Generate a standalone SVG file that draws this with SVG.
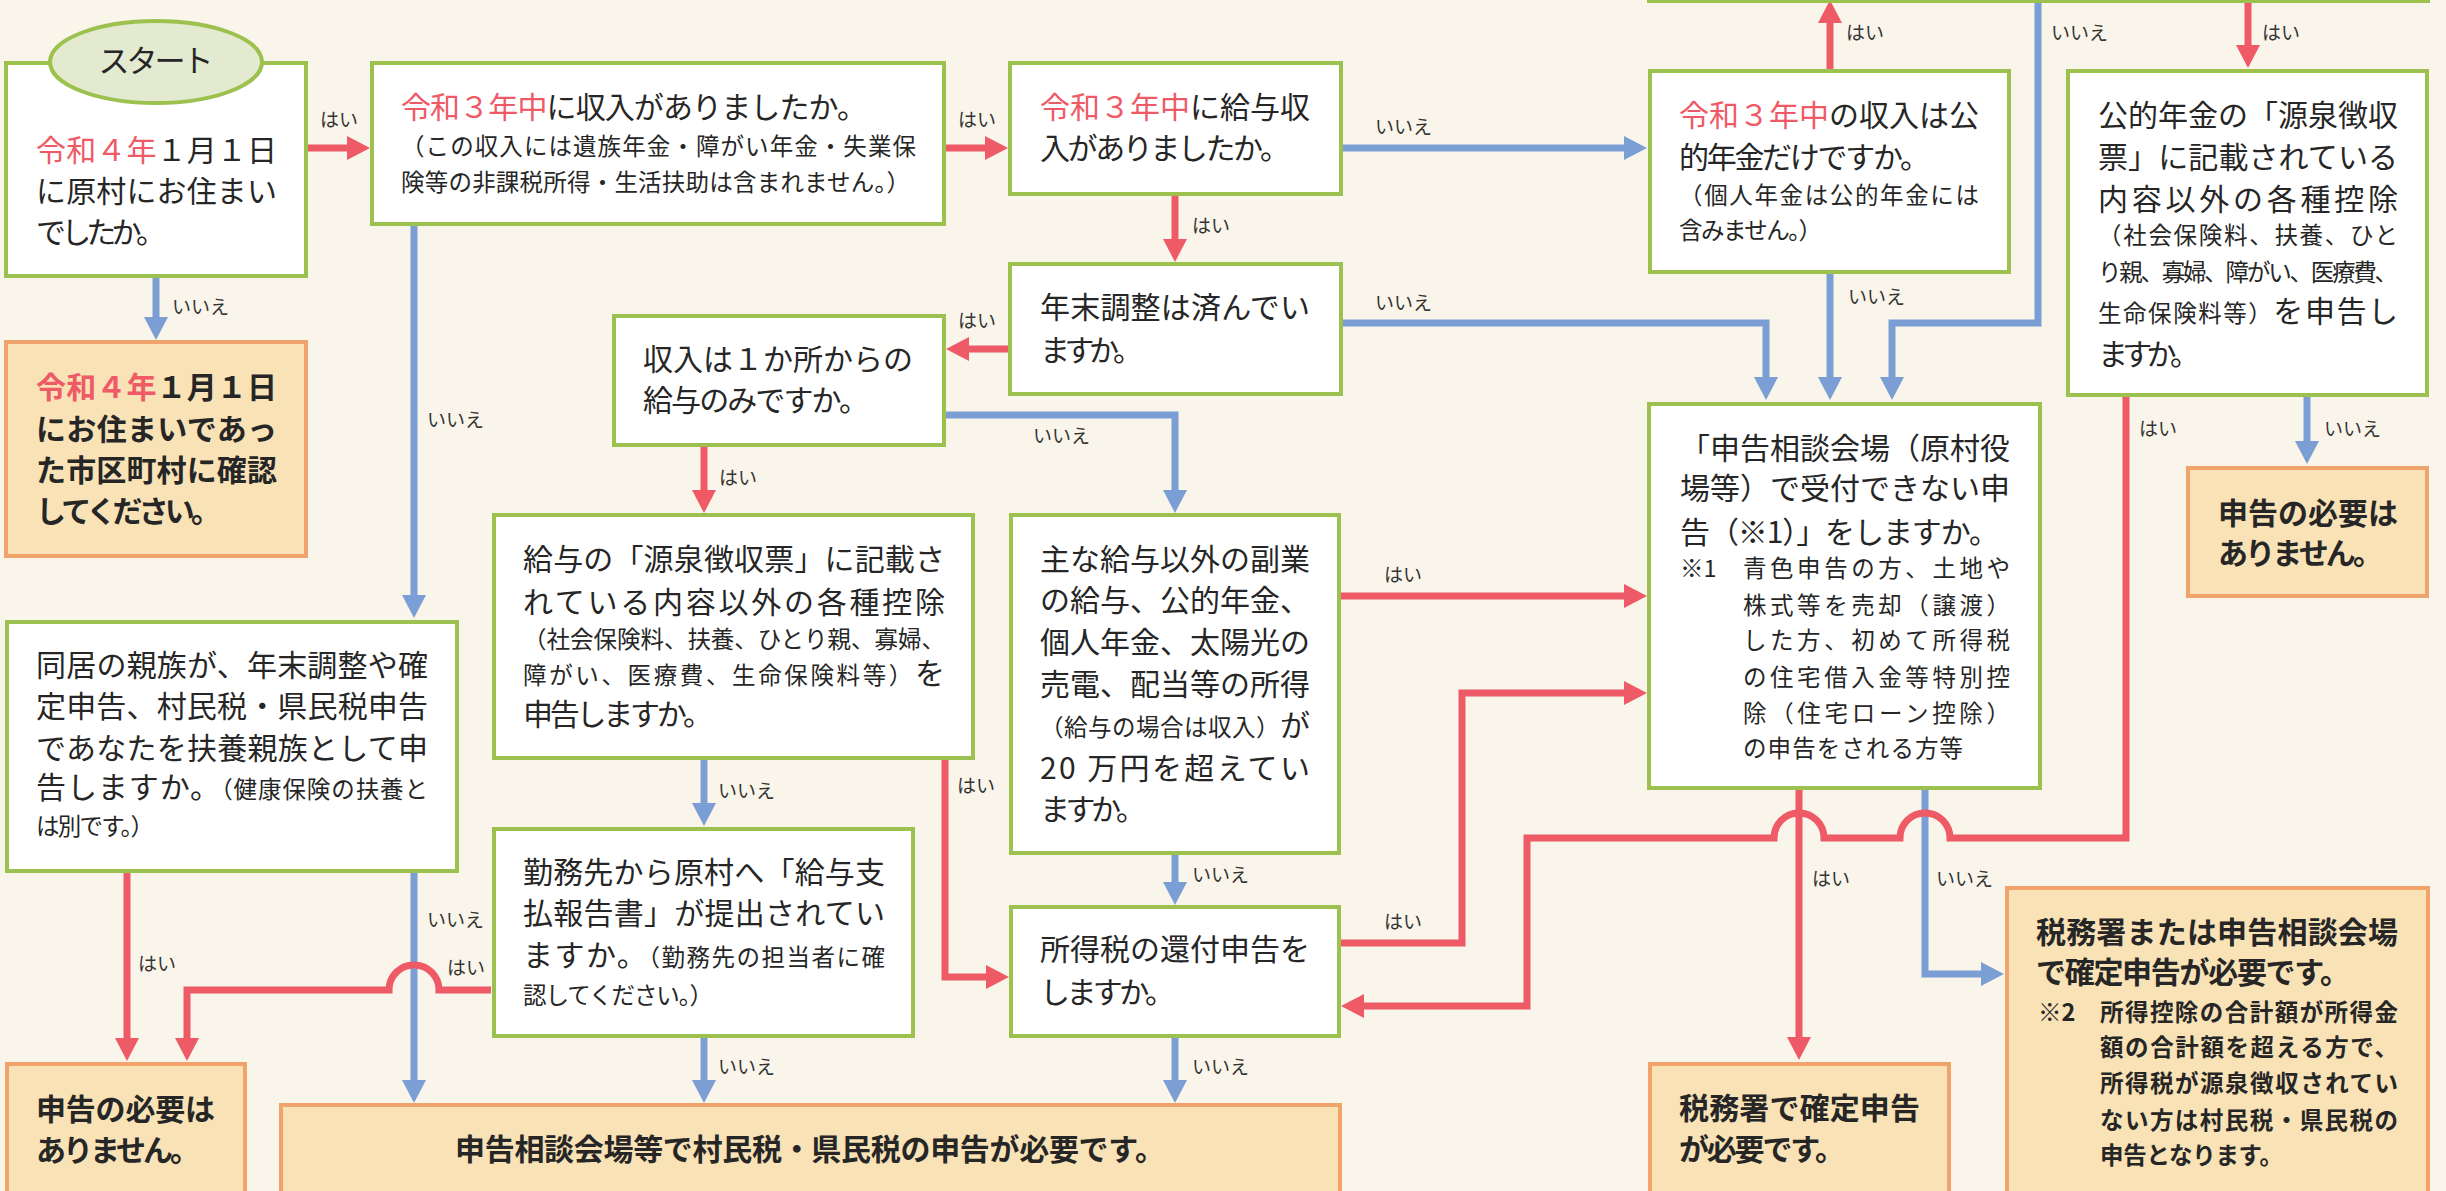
<svg xmlns="http://www.w3.org/2000/svg" width="2446" height="1191" viewBox="0 0 2446 1191">
<defs>
<style>
.g{fill:#FFFFFF;stroke:#9DC14E;stroke-width:4}
.o{fill:#F8E2B6;stroke:#F0A46C;stroke-width:4}
.t{font-family:"Noto Sans CJK JP","Noto Sans",sans-serif;font-size:30px;fill:#262626}
.s{font-size:23.5px}
.b{font-weight:bold}
.r{fill:#EE5A66}
.lab{font-family:"Noto Sans CJK JP","Noto Sans",sans-serif;font-size:19px;fill:#333333}
.cr{fill:none;stroke:#EE5A66;stroke-width:7;stroke-linejoin:miter}
.cb{fill:none;stroke:#7B9ED4;stroke-width:7;stroke-linejoin:miter}
</style>
<marker id="ar" markerUnits="userSpaceOnUse" markerWidth="24" markerHeight="26" viewBox="0 0 24 26" refX="1" refY="13" orient="auto"><path d="M0,1 L23,13 L0,25 z" fill="#EE5A66"/></marker>
<marker id="ab" markerUnits="userSpaceOnUse" markerWidth="24" markerHeight="26" viewBox="0 0 24 26" refX="1" refY="13" orient="auto"><path d="M0,1 L23,13 L0,25 z" fill="#7B9ED4"/></marker>
</defs>
<rect x="0" y="0" width="2446" height="1191" fill="#FAF5EA"/>

<g id="connectors">
<path class="cb" d="M156,276 V318" marker-end="url(#ab)"/>
<path class="cb" d="M414,225 V596" marker-end="url(#ab)"/>
<path class="cb" d="M1343,148 H1625" marker-end="url(#ab)"/>
<path class="cb" d="M1343,323 H1766 V378" marker-end="url(#ab)"/>
<path class="cb" d="M946,415 H1175 V491" marker-end="url(#ab)"/>
<path class="cb" d="M2038,0 V323 H1892 V378" marker-end="url(#ab)"/>
<path class="cb" d="M1830,273 V378" marker-end="url(#ab)"/>
<path class="cb" d="M2307,396 V442" marker-end="url(#ab)"/>
<path class="cb" d="M704,759 V804" marker-end="url(#ab)"/>
<path class="cb" d="M1175,854 V883" marker-end="url(#ab)"/>
<path class="cb" d="M1175,1037 V1081" marker-end="url(#ab)"/>
<path class="cb" d="M704,1037 V1081" marker-end="url(#ab)"/>
<path class="cb" d="M414,872 V1081" marker-end="url(#ab)"/>
<path class="cb" d="M1925,790 V974 H1982" marker-end="url(#ab)"/>

<path class="cr" d="M308,148 H348" marker-end="url(#ar)"/>
<path class="cr" d="M946,148 H986" marker-end="url(#ar)"/>
<path class="cr" d="M1175,195 V240" marker-end="url(#ar)"/>
<path class="cr" d="M1008,349 H968" marker-end="url(#ar)"/>
<path class="cr" d="M704,446 V491" marker-end="url(#ar)"/>
<path class="cr" d="M1830,69 V22" marker-end="url(#ar)"/>
<path class="cr" d="M2248,0 V46" marker-end="url(#ar)"/>
<path class="cr" d="M2126,396 V838 H1950 A25,25 0 0 0 1900,838 H1824 A25,25 0 0 0 1774,838 H1527 V1006 H1363" marker-end="url(#ar)"/>
<path class="cr" d="M945,759 V977 H987" marker-end="url(#ar)"/>
<path class="cr" d="M1341,596 H1625" marker-end="url(#ar)"/>
<path class="cr" d="M1341,943 H1462 V693 H1625" marker-end="url(#ar)"/>
<path class="cr" d="M491,990 H439 A25,25 0 0 0 389,990 H187 V1039" marker-end="url(#ar)"/>
<path class="cr" d="M127,872 V1039" marker-end="url(#ar)"/>
<path class="cr" d="M1799,790 V1038" marker-end="url(#ar)"/>

<text class="lab" x="320" y="127">はい</text>
<text class="lab" x="172" y="314">いいえ</text>
<text class="lab" x="958" y="127">はい</text>
<text class="lab" x="427" y="427">いいえ</text>
<text class="lab" x="1375" y="134">いいえ</text>
<text class="lab" x="1192" y="233">はい</text>
<text class="lab" x="958" y="328">はい</text>
<text class="lab" x="1375" y="310">いいえ</text>
<text class="lab" x="1033" y="443">いいえ</text>
<text class="lab" x="719" y="485">はい</text>
<text class="lab" x="1846" y="40">はい</text>
<text class="lab" x="2051" y="40">いいえ</text>
<text class="lab" x="2262" y="40">はい</text>
<text class="lab" x="1848" y="304">いいえ</text>
<text class="lab" x="2324" y="436">いいえ</text>
<text class="lab" x="2139" y="436">はい</text>
<text class="lab" x="718" y="798">いいえ</text>
<text class="lab" x="957" y="793">はい</text>
<text class="lab" x="1384" y="582">はい</text>
<text class="lab" x="1192" y="882">いいえ</text>
<text class="lab" x="1384" y="929">はい</text>
<text class="lab" x="1192" y="1074">いいえ</text>
<text class="lab" x="718" y="1074">いいえ</text>
<text class="lab" x="447" y="975">はい</text>
<text class="lab" x="138" y="971">はい</text>
<text class="lab" x="427" y="927">いいえ</text>
<text class="lab" x="1812" y="886">はい</text>
<text class="lab" x="1936" y="886">いいえ</text>
</g>

<g id="top-box"><rect class="g" x="1649" y="-100" width="779" height="101"/></g>

<g id="start">
<rect class="g" x="6" y="63" width="300" height="213"/>
<ellipse cx="156" cy="62" rx="106" ry="41" fill="#E3EACF" stroke="#9DC14E" stroke-width="4"/>
<text class="t" x="156" y="72" text-anchor="middle" style="font-size:31px" textLength="115">スタート</text>
<text class="t" x="36" y="161" textLength="241"><tspan class="r">令和４年</tspan>１月１日</text>
<text class="t" x="36" y="202" textLength="241">に原村にお住まい</text>
<text class="t" x="36" y="243" textLength="130">でしたか。</text>
</g>

<g id="confirm-city">
<rect class="o" x="6" y="342" width="300" height="214"/>
<text class="t b" x="36" y="398" textLength="241"><tspan class="r">令和４年</tspan>１月１日</text>
<text class="t b" x="36" y="440" textLength="241">にお住まいであっ</text>
<text class="t b" x="36" y="481" textLength="241">た市区町村に確認</text>
<text class="t b" x="36" y="522" textLength="185">してください。</text>
</g>

<g id="income">
<rect class="g" x="372" y="63" width="572" height="161"/>
<text class="t" x="401" y="118" textLength="466"><tspan class="r">令和３年中</tspan>に収入がありましたか。</text>
<text class="t s" x="401" y="155" textLength="515">（この収入には遺族年金・障がい年金・失業保</text>
<text class="t s" x="401" y="191" textLength="509">険等の非課税所得・生活扶助は含まれません。）</text>
</g>

<g id="salary">
<rect class="g" x="1010" y="63" width="331" height="131"/>
<text class="t" x="1040" y="118" textLength="270"><tspan class="r">令和３年中</tspan>に給与収</text>
<text class="t" x="1040" y="159" textLength="250">入がありましたか。</text>
</g>

<g id="year-end">
<rect class="g" x="1010" y="264" width="331" height="130"/>
<text class="t" x="1040" y="318" textLength="270">年末調整は済んでい</text>
<text class="t" x="1040" y="361" textLength="103">ますか。</text>
</g>

<g id="one-place">
<rect class="g" x="614" y="316" width="330" height="129"/>
<text class="t" x="643" y="370" textLength="270">収入は１か所からの</text>
<text class="t" x="643" y="411" textLength="226">給与のみですか。</text>
</g>

<g id="salary-deduction">
<rect class="g" x="494" y="515" width="479" height="243"/>
<text class="t" x="523" y="570" textLength="422">給与の「源泉徴収票」に記載さ</text>
<text class="t" x="523" y="613" textLength="422">れている内容以外の各種控除</text>
<text class="t s" x="523" y="648" textLength="422">（社会保険料、扶養、ひとり親、寡婦、</text>
<text class="t" x="523" y="684" textLength="422"><tspan class="s">障がい、医療費、生命保険料等）</tspan>を</text>
<text class="t" x="523" y="725" textLength="190">申告しますか。</text>
</g>

<g id="employer-report">
<rect class="g" x="494" y="829" width="419" height="207"/>
<text class="t" x="523" y="883" textLength="362">勤務先から原村へ「給与支</text>
<text class="t" x="523" y="924" textLength="362">払報告書」が提出されてい</text>
<text class="t" x="523" y="966" textLength="362">ますか。<tspan class="s">（勤務先の担当者に確</tspan></text>
<text class="t s" x="523" y="1004" textLength="190">認してください。）</text>
</g>

<g id="side-income">
<rect class="g" x="1011" y="515" width="328" height="338"/>
<text class="t" x="1040" y="570" textLength="270">主な給与以外の副業</text>
<text class="t" x="1040" y="611" textLength="270">の給与、公的年金、</text>
<text class="t" x="1040" y="653" textLength="270">個人年金、太陽光の</text>
<text class="t" x="1040" y="695" textLength="270">売電、配当等の所得</text>
<text class="t" x="1040" y="736" textLength="270"><tspan class="s">（給与の場合は収入）</tspan>が</text>
<text class="t" x="1040" y="779" textLength="270">20 万円を超えてい</text>
<text class="t" x="1040" y="820" textLength="106">ますか。</text>
</g>

<g id="refund">
<rect class="g" x="1011" y="907" width="328" height="129"/>
<text class="t" x="1040" y="960" textLength="270">所得税の還付申告を</text>
<text class="t" x="1040" y="1003" textLength="135">しますか。</text>
</g>

<g id="pension-only">
<rect class="g" x="1650" y="71" width="359" height="201"/>
<text class="t" x="1679" y="126" textLength="300"><tspan class="r">令和３年中</tspan>の収入は公</text>
<text class="t" x="1679" y="168" textLength="251">的年金だけですか。</text>
<text class="t s" x="1679" y="204" textLength="300">（個人年金は公的年金には</text>
<text class="t s" x="1679" y="239" textLength="143">含みません。）</text>
</g>

<g id="pension-deduction">
<rect class="g" x="2068" y="71" width="359" height="324"/>
<text class="t" x="2098" y="126" textLength="300">公的年金の「源泉徴収</text>
<text class="t" x="2098" y="168" textLength="300">票」に記載されている</text>
<text class="t" x="2098" y="210" textLength="300">内容以外の各種控除</text>
<text class="t s" x="2098" y="244" textLength="300">（社会保険料、扶養、ひと</text>
<text class="t s" x="2098" y="281" textLength="300">り親、寡婦、障がい、医療費、</text>
<text class="t" x="2098" y="322" textLength="300"><tspan class="s">生命保険料等）</tspan>を申告し</text>
<text class="t" x="2098" y="365" textLength="102">ますか。</text>
</g>

<g id="special-filing">
<rect class="g" x="1649" y="404" width="391" height="384"/>
<text class="t" x="1680" y="459" textLength="330">「申告相談会場（原村役</text>
<text class="t" x="1680" y="499" textLength="330">場等）で受付できない申</text>
<text class="t" x="1680" y="543" textLength="319">告（※1）」をしますか。</text>
<text class="t s" x="1680" y="577">※1</text>
<text class="t s" x="1743" y="577" textLength="267">青色申告の方、土地や</text>
<text class="t s" x="1743" y="614" textLength="267">株式等を売却（譲渡）</text>
<text class="t s" x="1743" y="649" textLength="267">した方、初めて所得税</text>
<text class="t s" x="1743" y="686" textLength="267">の住宅借入金等特別控</text>
<text class="t s" x="1743" y="722" textLength="267">除（住宅ローン控除）</text>
<text class="t s" x="1743" y="757" textLength="220">の申告をされる方等</text>
</g>

<g id="dependent">
<rect class="g" x="7" y="622" width="450" height="249"/>
<text class="t" x="36" y="676" textLength="392">同居の親族が、年末調整や確</text>
<text class="t" x="36" y="717" textLength="392">定申告、村民税・県民税申告</text>
<text class="t" x="36" y="759" textLength="392">であなたを扶養親族として申</text>
<text class="t" x="36" y="798" textLength="392">告しますか。<tspan class="s">（健康保険の扶養と</tspan></text>
<text class="t s" x="36" y="835" textLength="118">は別です。）</text>
</g>

<g id="no-need-left">
<rect class="o" x="7" y="1064" width="238" height="200"/>
<text class="t b" x="36" y="1120" textLength="179">申告の必要は</text>
<text class="t b" x="36" y="1161" textLength="164">ありません。</text>
</g>

<g id="village-tax">
<rect class="o" x="281" y="1105" width="1059" height="150"/>
<text class="t b" x="455" y="1160" textLength="710">申告相談会場等で村民税・県民税の申告が必要です。</text>
</g>

<g id="tax-office">
<rect class="o" x="1650" y="1064" width="299" height="200"/>
<text class="t b" x="1679" y="1119" textLength="241">税務署で確定申告</text>
<text class="t b" x="1679" y="1160" textLength="166">が必要です。</text>
</g>

<g id="tax-office-or-venue">
<rect class="o" x="2007" y="888" width="421" height="400"/>
<text class="t b" x="2036" y="943" textLength="362">税務署または申告相談会場</text>
<text class="t b" x="2036" y="983" textLength="314">で確定申告が必要です。</text>
<text class="t s b" x="2038" y="1021">※2</text>
<text class="t s b" x="2100" y="1021" textLength="298">所得控除の合計額が所得金</text>
<text class="t s b" x="2100" y="1056" textLength="298">額の合計額を超える方で、</text>
<text class="t s b" x="2100" y="1092" textLength="298">所得税が源泉徴収されてい</text>
<text class="t s b" x="2100" y="1129" textLength="298">ない方は村民税・県民税の</text>
<text class="t s b" x="2100" y="1164" textLength="183">申告となります。</text>
</g>

<g id="no-need-right">
<rect class="o" x="2188" y="468" width="239" height="128"/>
<text class="t b" x="2218" y="524" textLength="180">申告の必要は</text>
<text class="t b" x="2218" y="564" textLength="165">ありません。</text>
</g>
</svg>
